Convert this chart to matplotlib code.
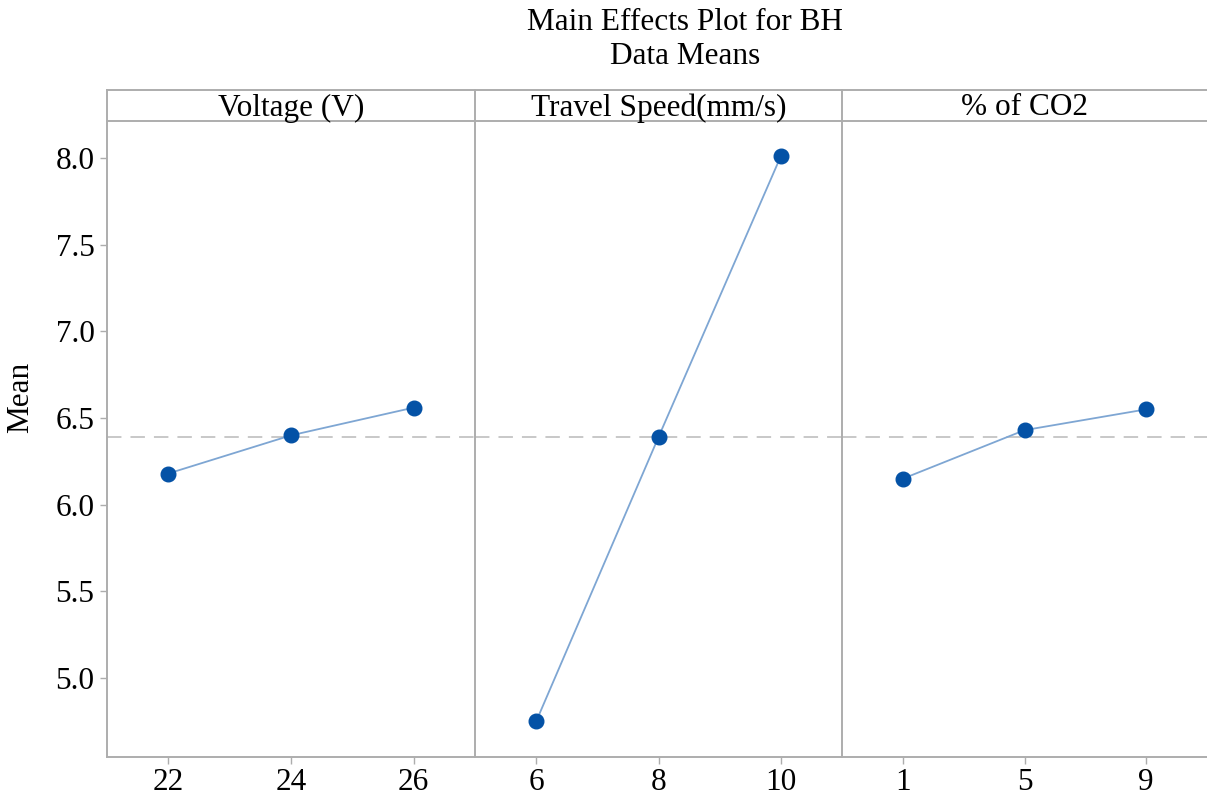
import matplotlib.pyplot as plt

# main effects data (means)
factors = ["Voltage (V)", "Travel Speed(mm/s)", "% of CO2"]
levels = [["22", "24", "26"], ["6", "8", "10"], ["1", "5", "9"]]
means = [[6.18, 6.40, 6.56], [4.75, 6.39, 8.01], [6.15, 6.43, 6.55]]
grand_mean = 6.39
y_ticks = [5.0, 5.5, 6.0, 6.5, 7.0, 7.5, 8.0]

plt.rcParams['font.family'] = ['Liberation Serif', 'DejaVu Serif']
W, H = 1207, 799
fig = plt.figure(figsize=(W / 100, H / 100), dpi=100)

frame_col = '#ADADAD'
dot_col = '#0452A6'
line_col = '#7EA6D3'
fs = 22.5

edges = [107, 475, 842, 1207]
plot_top, plot_bot, strip_top = 121, 757, 90

for i, name in enumerate(factors):
    x0, x1 = edges[i], edges[i + 1]
    ax = fig.add_axes([x0 / W, 1 - plot_bot / H, (x1 - x0) / W, (plot_bot - plot_top) / H])
    xs = range(len(levels[i]))
    ax.axhline(grand_mean, color='#C4C4C4', lw=1.3, ls=(0, (8, 5)), zorder=1)
    ax.plot(xs, means[i], color=line_col, lw=1.3, zorder=2)
    ax.plot(xs, means[i], 'o', color=dot_col, ms=10.5, zorder=3)
    ax.set_xlim(-0.5, 2.5)
    ax.set_ylim(4.545, 8.213)
    ax.set_xticks(list(xs))
    ax.set_xticklabels(levels[i], fontsize=fs)
    ax.set_yticks(y_ticks)
    for side in ['top', 'right']:
        ax.spines[side].set_visible(False)
    for side in ['bottom', 'left']:
        ax.spines[side].set_color(frame_col)
        ax.spines[side].set_linewidth(1.4)
    ax.tick_params(colors=frame_col, labelcolor='black', length=5, width=1)
    ax.tick_params(axis='x', pad=3)
    ax.tick_params(axis='y', pad=4)
    if i == 0:
        ax.set_yticklabels([f"{v:.1f}" for v in y_ticks], fontsize=fs)
    else:
        ax.tick_params(axis='y', left=False, labelleft=False)

    # strip header
    sa = fig.add_axes([x0 / W, 1 - plot_top / H, (x1 - x0) / W, (plot_top - strip_top) / H])
    sa.set_xticks([])
    sa.set_yticks([])
    for side in ['top', 'bottom', 'left']:
        sa.spines[side].set_color(frame_col)
        sa.spines[side].set_linewidth(1.4)
    sa.spines['right'].set_visible(False)
    sa.text(0.5, 0.42, name, ha='center', va='center', fontsize=fs, transform=sa.transAxes)

fig.text(21 / W, 1 - 397 / H, "Mean", rotation=90, ha='center', va='center', fontsize=fs)
fig.text(685 / W, 1 - 23 / H, "Main Effects Plot for BH", ha='center', va='center', fontsize=fs)
fig.text(685 / W, 1 - 56 / H, "Data Means", ha='center', va='center', fontsize=fs)

fig.savefig("out.png", dpi=100, facecolor='white')
